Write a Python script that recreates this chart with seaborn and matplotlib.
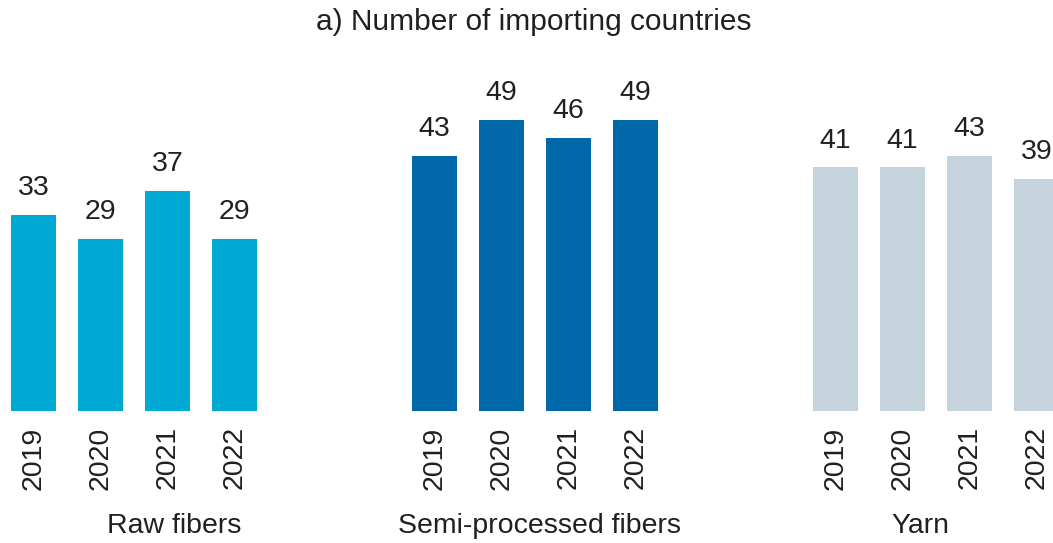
import matplotlib
matplotlib.use("Agg")
import matplotlib.pyplot as plt
import seaborn as sns
import pandas as pd

sns.set_theme(style="white")
plt.rcParams['font.family'] = ['Liberation Sans', 'DejaVu Sans']

years = ["2019", "2020", "2021", "2022"]
raw_fibers = [33, 29, 37, 29]
semi_processed = [43, 49, 46, 49]
yarn = [41, 41, 43, 39]
groups = ["Raw fibers", "Semi-processed fibers", "Yarn"]
colors = ["#00A9D4", "#0068A8", "#C5D3DD"]
title = "a) Number of importing countries"

series = [raw_fibers, semi_processed, yarn]
text_color = "#231F20"

W, H = 1053, 543
fig = plt.figure(figsize=(W / 100, H / 100), dpi=100)

lefts_px = [0, 401, 802]
ax_w_px = 268
base_px = 411
ymax = 55
px_per_unit = 5.94
ax_h_px = ymax * px_per_unit
label_x_px = [174, 539, 920]
fs = 20.5

for i, (vals, grp, col) in enumerate(zip(series, groups, colors)):
    ax = fig.add_axes([lefts_px[i] / W, (H - base_px) / H, ax_w_px / W, ax_h_px / H])
    df = pd.DataFrame({"year": years, "value": vals})
    sns.barplot(data=df, x="year", y="value", color=col, width=0.67,
                saturation=1, ax=ax, errorbar=None, linewidth=0)
    ax.set_xlim(-0.5, 3.5)
    ax.set_ylim(0, ymax)
    for c in ax.containers:
        ax.bar_label(c, labels=[str(v) for v in vals], padding=10,
                     fontsize=fs, color=text_color)
    ax.set_xlabel("")
    ax.set_ylabel("")
    ax.set_yticks([])
    ax.tick_params(axis="x", length=0, pad=11, labelsize=fs,
                   labelcolor=text_color, labelrotation=90)
    for s in ax.spines.values():
        s.set_visible(False)
    ax.patch.set_alpha(0)
    fig.text(label_x_px[i] / W, 1 - 526 / H, grp, ha="center", va="center",
             fontsize=fs, color=text_color)

fig.text(534 / W, 1 - 22 / H, title, ha="center", va="center",
         fontsize=21.5, color=text_color)

fig.savefig("out.png", dpi=100)
